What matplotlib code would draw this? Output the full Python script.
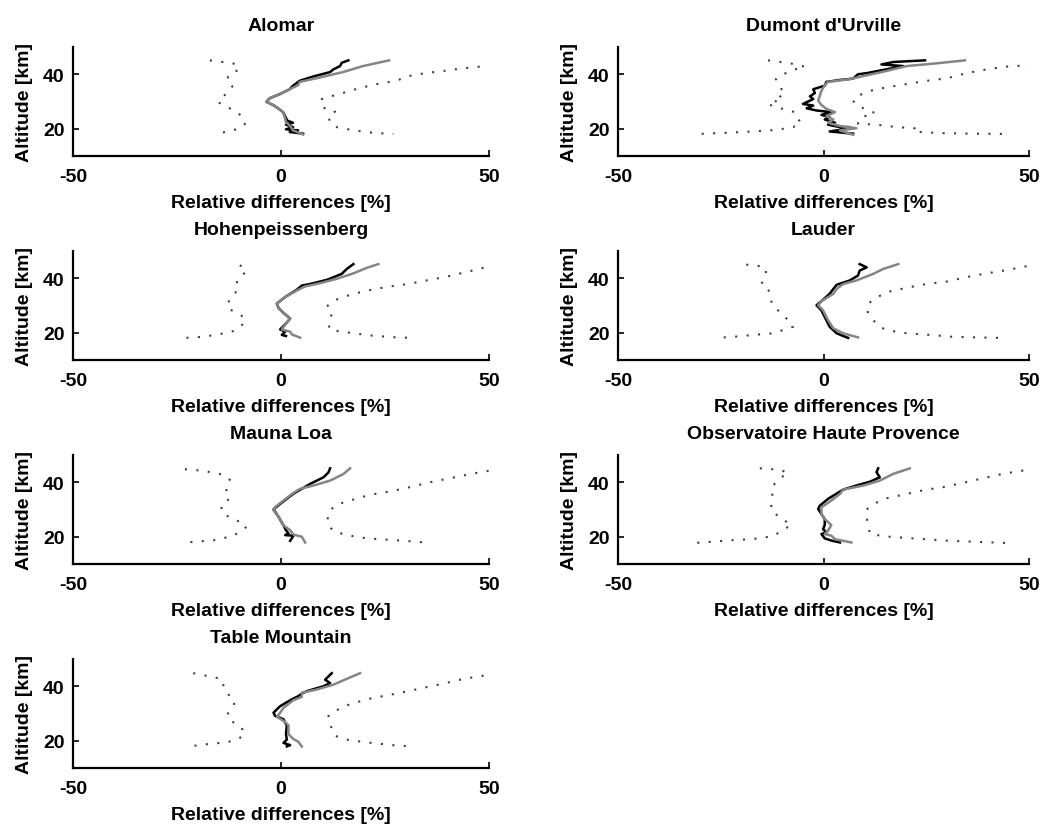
import numpy as np
import matplotlib
matplotlib.use("Agg")
import matplotlib.pyplot as plt

plt.rcParams['font.family'] = ['Liberation Sans', 'DejaVu Sans']
plt.rcParams['font.weight'] = 'bold'
plt.rcParams['axes.unicode_minus'] = False

stations = ["Alomar", "Dumont d'Urville", "Hohenpeissenberg", "Lauder",
            "Mauna Loa", "Observatoire Haute Provence", "Table Mountain"]

# each profile: list of (relative difference %, altitude km)
# lo / hi = dotted envelopes, grey = grey solid, blk = black solid

alo_lo = [(-17.1, 45.1), (-12.5, 44.2), (-10.3, 43.6), (-10.7, 42.4), (-10.7, 40.8), (-12.7, 39.2),
          (-12.9, 37.2), (-11.7, 35.5), (-12.7, 33.7), (-13.8, 31.9), (-15.1, 29.7), (-13.1, 28.2),
          (-11.1, 26.4), (-9.3, 24.6), (-8.7, 21.6), (-10.7, 19.8), (-13.1, 19.0), (-15.4, 17.9)]
alo_hi = [(50.5, 43.2), (43.8, 42.2), (39.0, 41.2), (34.6, 40.4), (30.2, 39.2), (27.8, 37.6),
          (23.0, 36.4), (18.6, 34.8), (14.6, 33.0), (11.8, 31.8), (9.8, 30.9), (9.8, 29.1),
          (9.8, 27.9), (13.0, 26.3), (11.4, 24.8), (11.8, 22.2), (13.4, 20.6), (17.4, 19.4),
          (22.2, 18.5), (27.0, 18.1)]
alo_grey = [(26.0, 45.1), (19.7, 43.0), (14.9, 40.8), (9.3, 38.8), (4.5, 37.2), (4.1, 36.0),
            (2.1, 34.5), (-0.3, 32.7), (-2.7, 31.2), (-3.5, 29.9), (-1.9, 28.7), (-0.7, 27.5),
            (0.5, 26.1), (0.9, 24.2), (1.2, 22.4), (2.1, 21.2), (2.9, 19.4), (5.3, 17.9)]
alo_blk = [(16.2, 45.1), (14.6, 44.2), (14.2, 43.0), (12.6, 41.8), (11.8, 40.8), (7.8, 39.2),
           (4.5, 37.6), (2.9, 35.8), (2.1, 34.5), (-0.3, 32.7), (-2.7, 31.2), (-3.5, 29.9),
           (-1.9, 28.7), (-0.7, 27.5), (0.5, 26.1), (1.5, 23.0), (2.9, 22.2), (1.2, 21.5),
           (2.9, 20.6), (1.2, 19.8), (4.1, 19.4), (2.1, 18.8), (5.3, 18.2)]

dum_lo = [(-13.5, 45.1), (-9.0, 44.2), (-6.6, 43.6), (-4.5, 42.7), (-7.4, 41.6), (-9.8, 40.0),
          (-11.6, 38.2), (-10.6, 36.4), (-10.2, 34.5), (-11.4, 32.7), (-9.8, 31.2), (-13.5, 29.0),
          (-11.4, 27.9), (-7.0, 26.1), (-6.6, 24.2), (-5.4, 22.2), (-7.4, 20.6), (-11.4, 19.6),
          (-17.1, 19.0), (-25.2, 18.4), (-30.5, 18.1)]
dum_hi = [(50.5, 43.4), (44.6, 42.8), (39.7, 41.8), (34.8, 40.4), (30.0, 38.5), (25.1, 37.6),
          (20.2, 36.4), (15.3, 35.2), (11.3, 33.9), (8.4, 32.1), (7.2, 30.3), (8.0, 28.7),
          (9.7, 27.5), (12.5, 25.8), (10.1, 24.6), (8.4, 23.0), (8.4, 21.8), (12.9, 21.5),
          (17.8, 20.6), (22.2, 20.2), (21.8, 19.0), (28.3, 18.4), (35.6, 18.2), (45.0, 18.1)]
dum_grey = [(34.4, 45.1), (27.5, 44.0), (20.2, 43.0), (15.3, 41.2), (10.5, 39.6), (6.4, 38.2),
            (1.1, 37.2), (0.3, 36.0), (-0.5, 33.9), (-0.9, 32.1), (-1.3, 30.3), (-0.5, 28.7),
            (0.7, 27.3), (2.8, 26.1), (0.7, 24.6), (2.4, 23.4), (1.1, 22.2), (4.0, 21.0),
            (8.0, 20.2), (4.0, 19.4), (7.2, 17.8)]
dum_blk = [(24.7, 45.1), (17.0, 44.5), (14.1, 43.6), (19.4, 43.0), (15.3, 41.8), (10.5, 40.4),
           (8.4, 40.0), (7.2, 38.4), (4.0, 37.9), (0.7, 37.2), (0.3, 35.8), (-2.5, 34.5),
           (-2.1, 33.1), (-3.3, 31.9), (-2.5, 30.9), (-5.0, 29.1), (-2.5, 28.5), (-4.1, 27.5),
           (-1.7, 26.7), (1.9, 26.1), (-0.5, 25.1), (1.5, 24.2), (0.3, 23.4), (2.8, 22.2),
           (1.1, 21.5), (4.0, 20.6), (6.4, 20.6), (4.0, 19.6), (1.5, 19.0), (7.2, 18.2)]

hoh_lo = [(-9.9, 44.8), (-8.3, 43.0), (-9.2, 41.0), (-10.5, 39.2), (-10.7, 37.6), (-10.3, 35.8),
          (-11.5, 33.9), (-12.4, 32.1), (-12.8, 30.4), (-12.7, 28.8), (-10.7, 27.4), (-8.8, 25.6),
          (-8.8, 23.6), (-9.9, 22.2), (-11.5, 20.6), (-14.7, 19.5), (-18.7, 18.5), (-23.1, 18.1)]
hoh_hi = [(48.7, 43.8), (44.3, 42.2), (39.9, 40.6), (35.0, 39.2), (30.6, 37.9), (26.2, 37.0),
          (21.8, 35.8), (17.4, 34.3), (13.8, 32.5), (11.8, 30.9), (11.0, 29.5), (11.8, 27.6),
          (12.2, 25.8), (12.0, 24.0), (11.4, 21.6), (13.4, 20.7), (17.4, 19.8), (22.2, 18.9),
          (27.8, 18.3), (32.2, 18.1)]
hoh_grey = [(23.4, 45.2), (20.6, 43.8), (17.4, 41.8), (13.4, 39.8), (9.4, 38.2), (5.8, 37.0),
            (3.8, 35.5), (1.0, 33.1), (-1.0, 30.7), (-0.6, 29.1), (0.6, 27.3), (2.2, 25.2),
            (1.2, 23.4), (0.2, 21.2), (2.2, 20.4), (2.6, 19.4), (4.6, 18.2)]
hoh_blk = [(17.4, 45.2), (15.8, 43.4), (14.6, 41.6), (11.0, 39.4), (7.0, 37.9), (5.0, 37.3),
           (3.8, 35.8), (1.0, 33.1), (-1.0, 30.7), (-0.6, 29.1), (0.6, 27.3), (2.2, 25.2),
           (1.2, 23.4), (-0.2, 21.2), (1.0, 20.4), (0.2, 19.2), (1.2, 18.8)]

lau_lo = [(-18.8, 45.0), (-14.3, 44.2), (-14.0, 42.2), (-14.4, 40.1), (-15.1, 37.9), (-13.5, 36.1),
          (-12.9, 33.7), (-12.7, 31.6), (-12.3, 29.8), (-10.6, 27.6), (-9.0, 25.2), (-7.4, 22.2),
          (-9.8, 21.0), (-12.3, 19.8), (-17.1, 19.2), (-22.0, 18.5), (-26.1, 18.1)]
lau_hi = [(49.4, 44.4), (44.6, 43.0), (39.7, 41.8), (34.8, 40.4), (30.0, 38.8), (25.1, 37.9),
          (20.2, 36.5), (15.3, 34.9), (12.5, 32.5), (10.9, 30.7), (10.5, 28.8), (10.9, 27.0),
          (12.1, 24.6), (13.7, 22.2), (15.3, 21.0), (20.2, 19.8), (25.9, 19.2), (31.6, 18.5),
          (42.9, 18.1)]
lau_grey = [(18.2, 45.2), (14.5, 43.4), (12.1, 41.6), (8.0, 39.2), (4.8, 37.9), (3.2, 36.1),
            (2.4, 34.3), (-0.5, 31.6), (-1.3, 30.1), (-0.1, 28.2), (1.1, 24.6), (2.4, 21.6),
            (4.8, 19.8), (8.4, 18.3)]
lau_blk = [(8.8, 45.2), (10.5, 44.0), (8.8, 42.8), (8.4, 41.0), (6.4, 39.2), (3.2, 37.6),
           (2.4, 36.1), (1.5, 34.3), (-0.5, 31.6), (-1.7, 30.1), (-0.5, 28.2), (0.7, 24.6),
           (1.5, 22.2), (3.2, 19.8), (4.8, 18.8), (6.0, 18.1)]

mau_lo = [(-23.1, 44.8), (-18.7, 44.2), (-14.7, 43.0), (-12.3, 41.0), (-13.2, 38.8), (-13.1, 36.6),
          (-12.3, 34.0), (-14.3, 31.8), (-14.3, 29.1), (-12.3, 27.0), (-9.9, 25.5), (-8.3, 23.6),
          (-9.9, 21.8), (-11.5, 20.4), (-15.5, 18.8), (-22.7, 17.9)]
mau_hi = [(49.9, 44.2), (45.5, 43.0), (40.7, 41.5), (35.8, 40.0), (31.0, 38.2), (26.2, 36.6),
          (21.4, 35.4), (16.6, 33.3), (13.4, 31.8), (11.8, 29.7), (11.2, 27.3), (11.4, 24.2),
          (12.6, 22.1), (15.8, 20.6), (20.6, 19.4), (27.0, 18.8), (34.7, 17.9)]
mau_grey = [(16.6, 45.1), (15.0, 43.0), (11.8, 40.6), (7.8, 38.8), (4.6, 37.6), (3.0, 36.1),
            (0.6, 33.3), (-1.4, 30.9), (-1.8, 29.7), (-0.6, 27.3), (0.6, 24.2), (2.2, 22.4),
            (3.0, 20.8), (5.0, 20.0), (5.8, 17.9)]
mau_blk = [(11.8, 45.1), (11.4, 43.6), (10.2, 41.8), (7.0, 39.4), (5.0, 37.6), (3.0, 35.8),
           (0.6, 33.0), (-1.8, 30.1), (-0.6, 27.3), (0.6, 24.2), (1.2, 22.4), (1.8, 21.2),
           (1.0, 20.6), (3.0, 20.4), (2.2, 18.5)]

ohp_lo = [(-15.5, 45.1), (-10.6, 44.6), (-8.6, 43.4), (-10.6, 41.5), (-11.9, 39.4), (-12.7, 37.0),
          (-12.3, 34.5), (-12.7, 31.7), (-12.7, 29.6), (-10.2, 26.6), (-7.8, 24.4), (-9.4, 22.9),
          (-12.3, 20.2), (-17.1, 19.2), (-23.6, 18.6), (-31.3, 17.7)]
ohp_hi = [(48.6, 44.3), (43.7, 43.1), (38.9, 41.5), (34.0, 39.8), (29.1, 38.2), (24.7, 37.2),
          (20.2, 35.7), (15.3, 34.1), (12.1, 32.0), (10.5, 30.0), (10.5, 27.1), (10.9, 24.1),
          (11.3, 21.0), (15.3, 20.1), (21.8, 19.4), (30.8, 18.5), (45.0, 17.7)]
ohp_grey = [(21.0, 45.1), (17.0, 43.1), (13.7, 40.6), (9.7, 38.8), (4.8, 37.3), (4.0, 35.7),
            (1.9, 33.3), (-0.5, 30.8), (-0.5, 28.3), (0.3, 26.5), (1.9, 24.3), (1.1, 22.2),
            (0.3, 21.0), (1.9, 20.4), (2.8, 19.1), (6.8, 17.9)]
ohp_blk = [(13.3, 45.1), (12.9, 43.7), (13.7, 41.8), (11.3, 40.2), (8.0, 38.8), (4.8, 37.3),
           (2.4, 35.1), (1.1, 33.9), (-0.9, 31.4), (-1.3, 30.2), (-0.5, 28.3), (0.3, 26.5),
           (0.3, 24.3), (-0.1, 22.8), (0.7, 21.6), (-0.5, 21.0), (0.3, 19.4), (1.9, 18.6),
           (4.0, 17.9)]

tab_lo = [(-21.1, 44.8), (-17.1, 43.6), (-14.3, 42.7), (-13.9, 40.6), (-13.5, 38.5), (-12.3, 36.4),
          (-11.1, 34.5), (-11.5, 32.5), (-12.7, 30.3), (-12.7, 28.1), (-11.1, 26.4), (-9.5, 24.8),
          (-8.7, 22.4), (-10.3, 20.6), (-13.1, 19.4), (-17.5, 18.8), (-22.3, 17.9)]
tab_hi = [(48.7, 43.9), (43.9, 42.7), (39.1, 41.0), (34.2, 39.4), (29.4, 37.8), (24.6, 36.4),
          (20.6, 35.2), (15.8, 33.0), (13.0, 30.9), (11.4, 29.1), (11.8, 26.7), (12.2, 24.2),
          (13.0, 21.8), (15.8, 20.4), (20.6, 19.4), (26.6, 18.4), (31.8, 17.9)]
tab_grey = [(19.0, 44.8), (15.8, 42.7), (12.6, 40.6), (8.6, 38.8), (5.0, 37.6), (5.0, 36.1),
            (3.0, 34.9), (0.6, 32.1), (-0.2, 30.3), (-1.0, 28.8), (0.6, 27.3), (1.8, 25.7),
            (1.8, 22.4), (3.0, 20.6), (4.2, 19.6), (5.0, 17.9)]
tab_blk = [(12.2, 44.8), (11.4, 43.6), (10.6, 42.4), (11.8, 41.2), (10.2, 40.0), (6.2, 38.2),
           (5.0, 37.3), (4.2, 36.4), (2.6, 35.2), (-0.2, 32.7), (-1.8, 30.3), (-1.4, 29.1),
           (0.6, 27.9), (1.4, 25.5), (1.2, 22.4), (1.4, 20.4), (0.6, 19.2), (2.2, 18.4),
           (1.4, 17.9)]

profiles = [
    (alo_lo, alo_hi, alo_grey, alo_blk),
    (dum_lo, dum_hi, dum_grey, dum_blk),
    (hoh_lo, hoh_hi, hoh_grey, hoh_blk),
    (lau_lo, lau_hi, lau_grey, lau_blk),
    (mau_lo, mau_hi, mau_grey, mau_blk),
    (ohp_lo, ohp_hi, ohp_grey, ohp_blk),
    (tab_lo, tab_hi, tab_grey, tab_blk),
]

W, H = 1051, 828
fig = plt.figure(figsize=(W / 100, H / 100), dpi=100)

col_left = [73, 618]
col_width = [416, 411]
row_bottom = [157, 361, 565, 769]
ax_h = 109

for i, name in enumerate(stations):
    r, c = divmod(i, 2)
    ax = fig.add_axes([col_left[c] / W, 1 - row_bottom[r] / H, col_width[c] / W, ax_h / H])
    lo, hi, grey, blk = profiles[i]
    for prof in (lo, hi):
        p = np.array(prof)
        ax.plot(p[:, 0], p[:, 1], color='#404040', lw=1.5, linestyle=(0, (1, 4.5)))
    p = np.array(blk)
    ax.plot(p[:, 0], p[:, 1], color='black', lw=1.8)
    p = np.array(grey)
    ax.plot(p[:, 0], p[:, 1], color='#858585', lw=1.8)

    ax.set_xlim(-50, 50)
    ax.set_ylim(10, 50)
    ax.set_xticks([-50, 0, 50])
    ax.set_yticks([20, 40])
    ax.spines['top'].set_visible(False)
    ax.spines['right'].set_visible(False)
    for s in ('left', 'bottom'):
        ax.spines[s].set_linewidth(1.6)
    ax.tick_params(direction='in', length=4, width=1.2, labelsize=14)
    ax.tick_params(axis='x', pad=9)
    ax.tick_params(axis='y', pad=6)
    ax.set_title(name, fontsize=14, fontweight='bold', pad=12)
    ax.set_xlabel('Relative differences [%]', fontsize=14, fontweight='bold', labelpad=6)
    ax.set_ylabel('Altitude [km]', fontsize=14, fontweight='bold', labelpad=7)

fig.savefig('out.png', dpi=100)
